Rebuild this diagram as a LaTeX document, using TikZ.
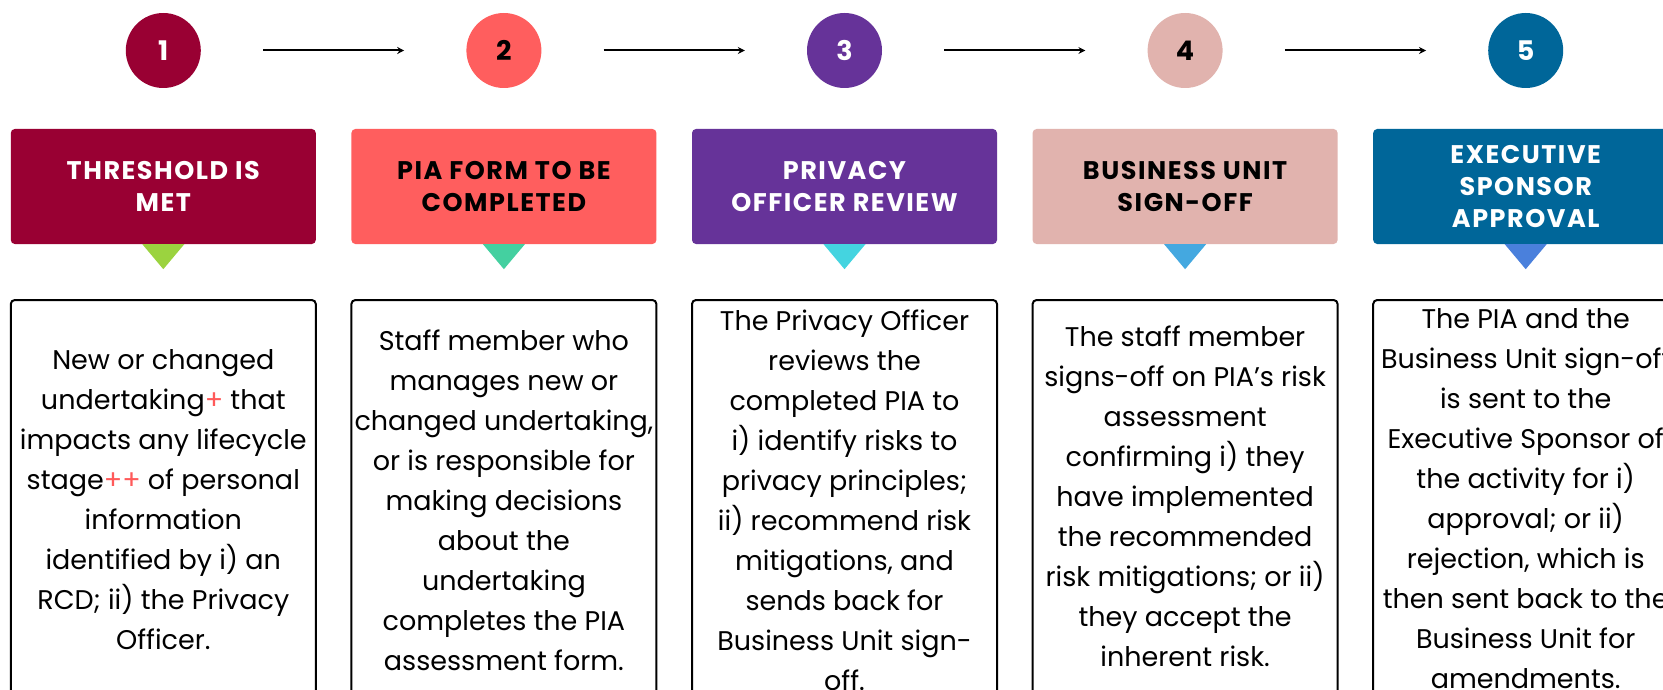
\documentclass[tikz,border=0pt]{standalone}
\usepackage{fontspec}
\setmainfont{Poppins}
\newfontfamily\headfont[LetterSpace=6]{Poppins}
\usetikzlibrary{arrows.meta,calc}
\definecolor{cA}{RGB}{153,0,51}
\definecolor{cB}{RGB}{255,94,94}
\definecolor{cC}{RGB}{102,51,153}
\definecolor{cD}{RGB}{225,179,174}
\definecolor{cE}{RGB}{0,102,153}
\definecolor{tA}{RGB}{155,211,63}
\definecolor{tB}{RGB}{68,208,160}
\definecolor{tC}{RGB}{68,212,224}
\definecolor{tD}{RGB}{68,168,224}
\definecolor{tE}{RGB}{74,128,220}
\definecolor{plus}{RGB}{255,90,90}
\begin{document}
\begin{tikzpicture}[x=1pt,y=-1pt,
  circ/.style={circle,minimum size=75pt,inner sep=0pt,font=\fontsize{27}{30}\selectfont\bfseries},
  head/.style={rounded corners=4pt,minimum width=305pt,minimum height=115pt,inner sep=0pt,align=center,font=\headfont\fontsize{25.5}{32}\selectfont\bfseries},
  bodybox/.style={draw=black,line width=2pt,rounded corners=4pt,minimum width=305pt,minimum height=400pt,inner sep=0pt},
  bodytext/.style={align=center,inner sep=0pt,font=\fontsize{27}{40}\selectfont},
  flow/.style={line width=2pt,-{Stealth[length=7pt,width=7pt]},shorten <=62pt,shorten >=62pt}]
\useasboundingbox (0,0) rectangle (1663,690);
\clip (0,0) rectangle (1663,690);
\fill[white] (0,0) rectangle (1663,690);
% circles
\node[circ,fill=cA,text=white] (c1) at (163.3,50.5) {1};
\node[circ,fill=cB,text=black] (c2) at (503.9,50.5) {2};
\node[circ,fill=cC,text=white] (c3) at (844.5,50.5) {3};
\node[circ,fill=cD,text=black] (c4) at (1185.1,50.5) {4};
\node[circ,fill=cE,text=white] (c5) at (1525.7,50.5) {5};
\draw[flow] (c1) -- (c2);
\draw[flow] (c2) -- (c3);
\draw[flow] (c3) -- (c4);
\draw[flow] (c4) -- (c5);
% headers
\node[head,fill=cA,text=white] (h1) at (163.3,186.5) {THRESHOLD IS\\MET};
\node[head,fill=cB,text=black] (h2) at (503.9,186.5) {PIA FORM TO BE\\COMPLETED};
\node[head,fill=cC,text=white] (h3) at (844.5,186.5) {PRIVACY\\OFFICER REVIEW};
\node[head,fill=cD,text=black] (h4) at (1185.1,186.5) {BUSINESS UNIT\\SIGN-OFF};
\node[head,fill=cE,text=white] (h5) at (1525.7,186.5) {EXECUTIVE\\SPONSOR\\APPROVAL};
% pointers
\foreach \h/\c in {h1/tA,h2/tB,h3/tC,h4/tD,h5/tE}{
  \fill[\c] ($(\h.south)+(-21,0)$) -- ($(\h.south)+(21,0)$) -- ($(\h.south)+(0,25)$) -- cycle;
}
% body boxes
\node[bodybox] (b1) at (163.3,500) {};
\node[bodybox] (b2) at (503.9,500) {};
\node[bodybox] (b3) at (844.5,500) {};
\node[bodybox] (b4) at (1185.1,500) {};
\node[bodybox] (b5) at (1525.7,500) {};
\node[bodytext] (t1) at (b1.center) {New or changed\\undertaking\textcolor{plus}{+} that\\impacts any lifecycle\\stage\textcolor{plus}{++} of personal\\information\\identified by i) an\\RCD; ii) the Privacy\\Officer.};
\node[bodytext] (t2) at (b2.center) {Staff member who\\manages new or\\changed undertaking,\\or is responsible for\\making decisions\\about the\\undertaking\\completes the PIA\\assessment form.};
\node[bodytext] (t3) at (b3.center) {The Privacy Officer\\reviews the\\completed PIA to\\i) identify risks to\\privacy principles;\\ii) recommend risk\\mitigations, and\\sends back for\\Business Unit sign-\\off.};
\node[bodytext] (t4) at ($(b4.center)+(0,-4)$) {The staff member\\signs-off on PIA’s risk\\assessment\\confirming i) they\\have implemented\\the recommended\\risk mitigations; or ii)\\they accept the\\inherent risk.};
\node[bodytext] (t5) at ($(b5.center)+(0,-1)$) {The PIA and the\\Business Unit sign-off\\is sent to the\\Executive Sponsor of\\the activity for i)\\approval; or ii)\\rejection, which is\\then sent back to the\\Business Unit for\\amendments.};
\end{tikzpicture}
\end{document}
